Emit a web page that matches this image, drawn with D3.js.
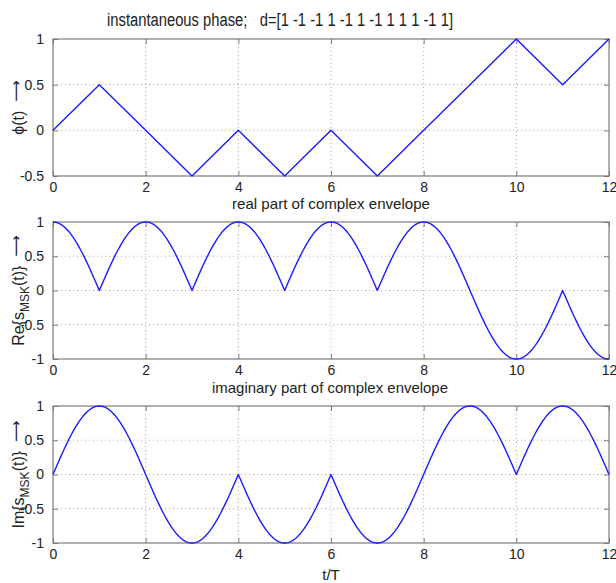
<!DOCTYPE html>
<html><head><meta charset="utf-8">
<script src="https://cdn.jsdelivr.net/npm/d3@7"></script>
<style>
body{margin:0;background:#fff;}
text{font-family:"Liberation Sans",Arial,sans-serif;fill:#222;}
</style></head>
<body><svg id="c" width="616" height="583"></svg>
<script>
// ---- data ----
const dataBits = [1, -1, -1, 1, -1, 1, -1, 1, 1, 1, -1, 1];
const phaseTimes = [0, 1, 2, 3, 4, 5, 6, 7, 8, 9, 10, 11, 12];
const phaseValues = [0, 0.5, 0, -0.5, 0, -0.5, 0, -0.5, 0, 0.5, 1, 0.5, 1]; // in units of pi
const xTicks = [0, 2, 4, 6, 8, 10, 12];
const phaseTicks = [-0.5, 0, 0.5, 1];
const envTicks = [-1, -0.5, 0, 0.5, 1];
const titleText = "instantaneous phase;\u00A0\u00A0\u00A0d=[" + dataBits.join(" ") + "]";

// phase interpolation (straight lines between the read points) and envelope derived from it
const phaseAt = d3.scaleLinear().domain(phaseTimes).range(phaseValues);
const sampleT = d3.range(0, 12.0001, 0.02);
const phaseSeries = phaseTimes.map((t, i) => [t, phaseValues[i]]);
const reSeries = sampleT.map(t => [t, Math.cos(Math.PI * phaseAt(t))]);
const imSeries = sampleT.map(t => [t, Math.sin(Math.PI * phaseAt(t))]);

const svg = d3.select("#c");
const X0 = 53, X1 = 609;
const x = d3.scaleLinear().domain([0, 12]).range([X0, X1]);

const panels = [
  {top: 39, bot: 176, dom: [-0.5, 1], ticks: phaseTicks, data: phaseSeries, label: "phi"},
  {top: 222, bot: 359, dom: [-1, 1], ticks: envTicks, data: reSeries, label: "Re"},
  {top: 406, bot: 543, dom: [-1, 1], ticks: envTicks, data: imSeries, label: "Im"}
];

const fmt = v => String(v);

panels.forEach(p => {
  const y = d3.scaleLinear().domain(p.dom).range([p.bot, p.top]);
  const g = svg.append("g");
  // grid
  g.selectAll(".gx").data(xTicks.slice(1, -1)).join("line")
    .attr("x1", d => x(d)).attr("x2", d => x(d)).attr("y1", p.top).attr("y2", p.bot)
    .attr("stroke", "#a8a8a8").attr("stroke-width", 1).attr("stroke-dasharray", "1,3");
  g.selectAll(".gy").data(p.ticks.slice(1, -1)).join("line")
    .attr("y1", d => y(d)).attr("y2", d => y(d)).attr("x1", X0).attr("x2", X1)
    .attr("stroke", "#a8a8a8").attr("stroke-width", 1).attr("stroke-dasharray", "1,3");
  // frame
  g.append("rect").attr("x", X0).attr("y", p.top).attr("width", X1 - X0).attr("height", p.bot - p.top)
    .attr("fill", "none").attr("stroke", "#7a7a7a").attr("stroke-width", 1.2);
  // axes with inward ticks
  const ax = g.append("g").attr("transform", `translate(0,${p.bot})`)
    .call(d3.axisBottom(x).tickValues(xTicks).tickSize(-5).tickPadding(6).tickFormat(fmt));
  const axT = g.append("g").attr("transform", `translate(0,${p.top})`)
    .call(d3.axisTop(x).tickValues(xTicks).tickSize(-5).tickFormat(""));
  const ay = g.append("g").attr("transform", `translate(${X0},0)`)
    .call(d3.axisLeft(y).tickValues(p.ticks).tickSize(-5).tickPadding(9).tickFormat(fmt));
  const ayR = g.append("g").attr("transform", `translate(${X1},0)`)
    .call(d3.axisRight(y).tickValues(p.ticks).tickSize(-5).tickFormat(""));
  [ax, axT, ay, ayR].forEach(a => {
    a.select(".domain").remove();
    a.selectAll(".tick line").attr("stroke", "#7a7a7a");
    a.selectAll("text").style("font-size", "14px").attr("fill", "#222")
      .style("font-family", "'Liberation Sans',Arial,sans-serif");
  });
  // line
  g.append("path").datum(p.data)
    .attr("d", d3.line().x(d => x(d[0])).y(d => y(d[1])))
    .attr("fill", "none").attr("stroke", "#1a1aff").attr("stroke-width", 1.4)
    .attr("stroke-linejoin", "round");
  // y label
  const cy = (p.top + p.bot) / 2;
  const t = svg.append("text").attr("transform", `translate(24,${cy}) rotate(-90)`)
    .attr("text-anchor", "middle").style("font-size", "16px");
  if (p.label === "phi") {
    t.append("tspan").text("\u03D5(t)\u00A0\u00A0");
  } else {
    t.append("tspan").text(p.label + "{s");
    t.append("tspan").attr("dy", 5).style("font-size", "12px").text("MSK");
    t.append("tspan").attr("dy", -5).text("(t)}\u00A0\u00A0");
  }
  t.append("tspan").style("font-family", "'DejaVu Sans'").style("font-size", "15px")
    .attr("dy", -3).text("\u27F6");
});

// titles
svg.append("text").attr("x", 280).attr("y", 26).attr("text-anchor", "middle")
  .style("font-size", "18px").attr("textLength", 346).attr("lengthAdjust", "spacingAndGlyphs")
  .text(titleText);
svg.append("text").attr("x", 331).attr("y", 209).attr("text-anchor", "middle")
  .style("font-size", "15px").attr("textLength", 198).attr("lengthAdjust", "spacingAndGlyphs")
  .text("real part of complex envelope");
svg.append("text").attr("x", 330).attr("y", 393).attr("text-anchor", "middle")
  .style("font-size", "15px").attr("textLength", 236).attr("lengthAdjust", "spacingAndGlyphs")
  .text("imaginary part of complex envelope");
svg.append("text").attr("x", 331).attr("y", 580).attr("text-anchor", "middle")
  .style("font-size", "15px").text("t/T");
</script></body></html>
